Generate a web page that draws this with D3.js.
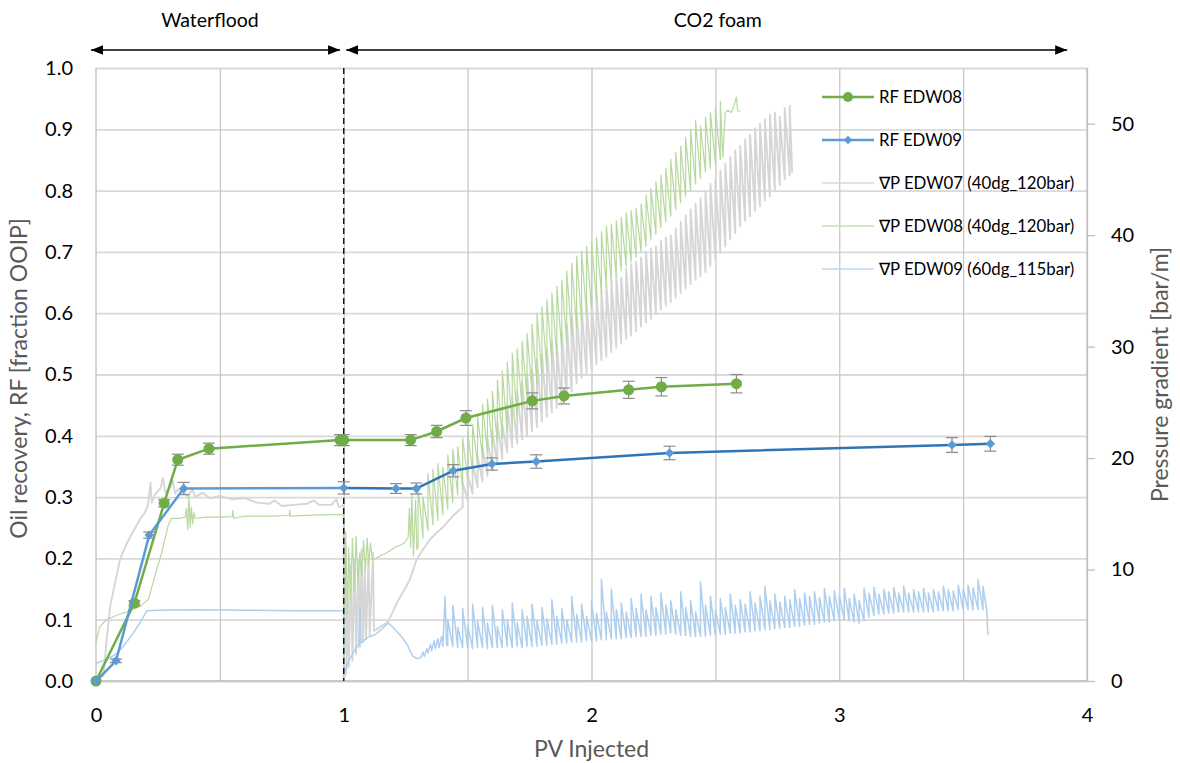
<!DOCTYPE html>
<html>
<head>
<meta charset="utf-8">
<script src="https://cdn.jsdelivr.net/npm/d3@7"></script>
<style>
  body { margin: 0; background: #fff; }
  svg { font-family: Lato, 'Liberation Sans', sans-serif; }
</style>
</head>
<body>
<svg id="chart" width="1180" height="763"></svg>
<script>
// Recovery factor, EDW08 (green circles)
const rf08PV = [0, 0.155, 0.275, 0.33, 0.456, 0.985, 1.0, 1.27, 1.375, 1.493, 1.761, 1.889, 2.15, 2.282, 2.585];
const rf08 = [0.0, 0.127, 0.29, 0.361, 0.379, 0.393, 0.393, 0.393, 0.407, 0.429, 0.457, 0.465, 0.475, 0.48, 0.485];
const rf08Err = [0, 0.004, 0.006, 0.009, 0.009, 0.009, 0.009, 0.009, 0.01, 0.012, 0.013, 0.013, 0.014, 0.015, 0.015];

// Recovery factor, EDW09 (blue diamonds)
const rf09PV = [0, 0.081, 0.215, 0.354, 1.0, 1.211, 1.293, 1.442, 1.598, 1.777, 2.315, 3.455, 3.61];
const rf09 = [0.0, 0.033, 0.238, 0.314, 0.315, 0.314, 0.314, 0.343, 0.354, 0.358, 0.372, 0.385, 0.387];
const rf09Err = [0, 0.003, 0.005, 0.01, 0.01, 0.008, 0.009, 0.01, 0.01, 0.011, 0.011, 0.012, 0.012];

// Pressure gradient traces [PV, bar/m]; spikes are [PV, low, high]
const edw07Flood = [[0,0.2],[0.02,0.3],[0.03,0.5],[0.043,3.7],[0.057,6.7],[0.077,8.8],[0.097,10.9],[0.117,12.0],[0.137,12.9],[0.16,13.8],[0.18,14.6],[0.197,15.1],[0.21,15.8],[0.22,17.8],[0.225,16.0],[0.24,16.8],[0.26,17.3],[0.27,18.2],[0.28,16.9],[0.30,17.4],[0.31,18.0],[0.32,16.8],[0.33,17.2],[0.35,17.0],[0.37,16.6],[0.39,17.2],[0.40,16.5],[0.43,16.9],[0.46,16.4],[0.50,16.6],[0.55,16.3],[0.60,16.4],[0.65,16.0],[0.70,15.9],[0.72,16.2],[0.75,15.7],[0.80,15.8],[0.85,15.9],[0.88,16.2],[0.90,15.8],[0.95,15.8],[0.97,16.3],[0.98,15.6],[1.0,15.8]];
const edw07Foam = [[1.0,0.2],[1.01,0.8],[1.015,9.0],[1.02,1.2],[1.03,10.5],[1.035,1.8],[1.045,11.0],[1.05,2.4],[1.06,10.8],[1.065,3.0],[1.072,11.8],[1.078,3.5],[1.085,10.2],[1.09,3.8],[1.10,11.0],[1.105,4.1],[1.118,11.5],[1.122,4.5],[1.15,4.9],[1.179,5.3],[1.214,7.0],[1.24,8.0],[1.267,9.1],[1.294,10.9],[1.32,11.8],[1.348,12.7],[1.375,13.3],[1.40,13.8],[1.44,14.8],[1.46,15.2]];
const edw07Spikes = [
  [1.48,15.6,17.8],[1.50,16.2,18.5],[1.52,16.8,19.6],[1.54,17.4,20.2],[1.56,17.9,21.0],[1.58,18.4,21.8],[1.60,18.9,22.5],[1.62,19.4,23.3],[1.64,19.9,23.0],[1.66,20.5,24.8],
  [1.68,21.0,25.5],[1.70,21.3,26.0],[1.72,21.7,26.8],[1.74,22.0,27.5],[1.76,22.4,28.0],[1.78,22.8,28.9],[1.80,23.3,29.3],[1.82,23.7,29.8],[1.84,24.1,30.5],[1.86,24.5,30.2],
  [1.88,24.8,31.3],[1.90,25.3,32.0],[1.92,26.0,32.8],[1.94,26.7,33.0],[1.96,27.2,33.5],[1.98,27.6,33.8],[2.00,28.0,34.4],[2.02,28.4,34.9],[2.04,28.8,35.0],[2.06,29.1,35.6],
  [2.08,29.5,36.0],[2.10,29.9,36.4],[2.12,30.3,36.2],[2.14,30.7,37.0],[2.16,31.0,37.4],[2.18,31.4,37.6],[2.20,31.8,38.0],[2.22,32.2,38.5],[2.24,32.5,38.8],[2.26,32.9,39.0],
  [2.28,33.3,39.5],[2.30,33.7,39.8],[2.32,34.0,40.0],[2.34,34.4,40.6],[2.36,34.8,41.2],[2.38,35.2,41.8],[2.40,35.6,42.3],[2.42,36.0,42.8],[2.44,36.3,43.3],[2.46,36.7,44.0],
  [2.48,37.2,44.6],[2.50,37.8,45.0],[2.52,38.4,45.8],[2.54,39.0,46.4],[2.56,39.6,47.0],[2.58,40.2,47.6],[2.60,40.8,48.0],[2.62,41.3,48.6],[2.64,41.7,49.0],[2.66,42.2,49.6],
  [2.68,42.6,50.0],[2.70,43.1,50.4],[2.72,43.5,50.8],[2.74,44.0,51.0],[2.76,44.5,50.6],[2.78,45.0,51.4],[2.80,45.4,51.6]
];
const edw07End = [[2.81,45.6]];

const edw08Flood = [[0,3.5],[0.016,4.9],[0.043,5.5],[0.084,5.9],[0.137,6.3],[0.178,6.7],[0.211,7.3],[0.245,10.0],[0.265,11.5],[0.292,14.0],[0.305,14.6],[0.34,14.6],[0.36,14.7],[0.365,15.5],[0.37,13.6],[0.375,16.6],[0.38,13.8],[0.385,15.6],[0.39,14.1],[0.395,15.1],[0.40,14.6],[0.45,14.7],[0.50,14.7],[0.55,14.75],[0.552,15.3],[0.556,14.6],[0.60,14.8],[0.70,14.8],[0.78,14.85],[0.782,15.3],[0.785,14.8],[0.90,14.9],[1.0,14.95]];
const edw08Foam = [[1.0,1.0],[1.005,3.1],[1.008,13.4],[1.015,6.0],[1.02,12.0],[1.027,7.3],[1.035,12.8],[1.042,8.0],[1.05,13.0],[1.057,8.8],[1.065,11.5],[1.072,9.5],[1.08,12.6],[1.087,10.0],[1.095,12.8],[1.10,10.4],[1.108,12.4],[1.115,10.9],[1.13,11.0],[1.155,11.3],[1.18,11.6],[1.21,12.05],[1.23,12.2],[1.246,12.4],[1.26,12.9],[1.265,15.5],[1.27,12.0],[1.275,16.8],[1.281,11.2],[1.29,16.2],[1.295,11.8]];
const edw08Spikes = [
  [1.30,12.0,17.5],[1.32,12.8,16.5],[1.34,13.5,18.6],[1.36,14.0,19.0],[1.38,14.4,19.5],[1.40,14.9,19.2],[1.42,15.4,20.3],[1.44,16.0,20.8],[1.46,16.7,21.0],[1.48,17.4,21.8],
  [1.50,18.1,22.4],[1.52,18.8,23.0],[1.54,19.5,23.8],[1.56,20.1,24.8],[1.58,20.6,25.3],[1.60,21.0,26.0],[1.62,21.4,27.0],[1.64,21.8,27.8],[1.66,22.3,28.6],[1.68,22.9,29.4],
  [1.70,23.6,29.8],[1.72,24.5,30.5],[1.74,25.2,31.2],[1.76,25.9,32.0],[1.78,26.6,33.0],[1.80,27.3,33.6],[1.82,27.9,34.2],[1.84,28.6,34.8],[1.86,29.2,35.4],[1.88,29.8,36.0],
  [1.90,30.4,36.8],[1.92,31.0,37.5],[1.94,31.7,38.1],[1.96,32.3,38.6],[1.98,32.9,39.0],[2.00,33.5,39.4],[2.02,34.1,39.8],[2.04,34.8,40.3],[2.06,35.4,40.8],[2.08,35.9,41.0],
  [2.10,36.3,41.3],[2.12,36.8,41.6],[2.14,37.2,42.0],[2.16,37.6,42.2],[2.18,38.0,42.4],[2.20,38.5,42.8],[2.22,39.0,43.6],[2.24,39.6,44.2],[2.26,40.1,44.8],[2.28,40.7,45.4],
  [2.30,41.2,46.0],[2.32,41.7,46.8],[2.34,42.3,47.4],[2.36,42.9,48.0],[2.38,43.5,48.8],[2.40,44.0,49.5],[2.42,44.6,50.3],[2.44,45.1,49.8],[2.46,45.7,50.6],[2.48,46.0,51.0],
  [2.50,46.4,51.4],[2.52,46.8,52.0]
];
const edw08End = [[2.53,47.0],[2.54,51.0],[2.55,51.2],[2.565,51.0],[2.575,51.6],[2.585,52.4],[2.59,51.2],[2.60,51.1]];

const edw09Flood = [[0,1.6],[0.04,1.9],[0.08,2.4],[0.11,3.1],[0.15,4.3],[0.18,5.3],[0.205,6.3],[0.25,6.35],[0.4,6.4],[0.6,6.35],[0.8,6.3],[1.0,6.3]];
const edw09Foam = [[1.0,0.5],[1.005,1.0],[1.02,1.8],[1.035,2.4],[1.05,3.0],[1.06,3.2],[1.066,6.6],[1.07,3.4],[1.08,3.6],[1.09,3.8],[1.105,4.0],[1.12,4.1],[1.135,4.3],[1.15,4.6],[1.165,4.9],[1.18,5.2],[1.20,4.8],[1.22,4.3],[1.24,3.8],[1.26,3.1],[1.27,2.6],[1.28,2.2],[1.295,2.0],[1.31,2.1],[1.32,2.6],[1.325,2.2],[1.335,2.9],[1.34,2.5],[1.35,3.3],[1.355,2.7],[1.365,3.6],[1.37,2.9],[1.38,3.8],[1.385,3.0],[1.395,4.0],[1.40,3.1],[1.409,7.6],[1.415,3.2]];
const edw09Spikes = [
  [1.42,3.2,5.5],[1.44,3.1,6.8],[1.46,3.0,4.8],[1.48,3.0,6.5],[1.50,3.0,5.0],[1.52,2.9,6.9],[1.54,3.0,5.4],[1.56,3.0,6.6],[1.58,2.9,5.2],[1.60,3.0,6.8],
  [1.62,3.0,4.9],[1.64,3.0,6.4],[1.66,3.1,5.5],[1.68,3.0,7.0],[1.70,3.1,5.2],[1.72,3.0,6.4],[1.74,3.1,5.8],[1.76,3.1,6.9],[1.78,3.1,5.4],[1.80,3.2,6.6],
  [1.82,3.2,5.6],[1.84,3.3,7.3],[1.86,3.3,5.8],[1.88,3.4,6.5],[1.90,3.4,5.5],[1.92,3.5,7.6],[1.94,3.5,6.0],[1.96,3.5,6.9],[1.98,3.6,5.8],[2.00,3.6,7.2],
  [2.02,3.6,6.1],[2.04,3.7,9.1],[2.06,3.7,6.2],[2.08,3.8,8.2],[2.10,3.8,6.4],[2.12,3.8,7.0],[2.14,3.9,6.2],[2.16,3.9,7.4],[2.18,4.0,6.5],[2.20,4.0,7.8],
  [2.22,4.0,6.4],[2.24,4.1,7.6],[2.26,4.1,6.6],[2.28,4.2,7.9],[2.30,4.2,6.8],[2.32,4.3,7.2],[2.34,4.2,6.4],[2.36,4.1,8.0],[2.38,4.1,6.6],[2.40,4.0,7.2],
  [2.42,4.0,6.2],[2.44,4.0,8.9],[2.46,4.0,6.8],[2.48,4.1,7.6],[2.50,4.1,6.4],[2.52,4.2,7.4],[2.54,4.2,6.6],[2.56,4.3,7.8],[2.58,4.3,6.8],[2.60,4.3,7.3],
  [2.62,4.4,6.9],[2.64,4.4,8.0],[2.66,4.5,7.0],[2.68,4.5,7.6],[2.70,4.6,8.5],[2.72,4.6,7.2],[2.74,4.7,7.8],[2.76,4.7,7.1],[2.78,4.8,7.6],[2.80,4.8,7.3],
  [2.82,4.9,8.2],[2.84,4.9,7.4],[2.86,5.0,7.9],[2.88,5.1,7.6],[2.90,5.1,8.0],[2.92,5.2,7.5],[2.94,5.3,8.3],[2.96,5.3,7.6],[2.98,5.4,8.1],[3.00,5.5,7.7],
  [3.02,5.5,8.3],[3.04,5.4,7.4],[3.06,5.3,7.8],[3.08,5.2,7.2],[3.10,5.4,8.3],[3.12,5.7,7.9],[3.14,5.9,8.4],[3.16,6.0,7.8],[3.18,6.0,8.2],[3.20,6.1,8.0],
  [3.22,6.1,8.4],[3.24,6.2,7.9],[3.26,6.2,8.5],[3.28,6.2,7.9],[3.30,6.2,8.2],[3.32,6.2,8.0],[3.34,6.2,8.3],[3.36,6.2,7.9],[3.38,6.2,8.2],[3.40,6.3,8.0],
  [3.42,6.3,8.5],[3.44,6.3,8.2],[3.46,6.3,8.1],[3.48,6.4,8.6],[3.50,6.4,8.3],[3.52,6.4,8.6],[3.54,6.4,8.4],[3.56,6.4,9.1],[3.58,6.4,8.5]
];
const edw09End = [[3.595,6.4],[3.60,4.1]];

// Axis ticks and annotations
const xTicks = [0, 1, 2, 3, 4];
const xGrid = [0.5, 1, 1.5, 2, 2.5, 3, 3.5, 4];
const rfTicks = [0, 0.1, 0.2, 0.3, 0.4, 0.5, 0.6, 0.7, 0.8, 0.9, 1.0];
const dpTicks = [0, 10, 20, 30, 40, 50];
const phases = [
  { label: 'Waterflood', from: -0.02, to: 0.985, mid: 0.46 },
  { label: 'CO2 foam', from: 1.01, to: 3.92, mid: 2.51 }
];
const legendItems = [
  { label: 'RF EDW08', color: '#70AD47', width: 2.5, marker: 'circle' },
  { label: 'RF EDW09', color: '#5B9BD5', width: 2.5, marker: 'diamond' },
  { label: '\u2207P EDW07 (40dg_120bar)', color: '#D9D9D9', width: 1.5 },
  { label: '\u2207P EDW08 (40dg_120bar)', color: '#C5E0B4', width: 1.5 },
  { label: '\u2207P EDW09 (60dg_115bar)', color: '#BDD7EE', width: 1.5 }
];

const svg = d3.select('#chart');
const plotLeft = 96, plotRight = 1087, plotTop = 68, plotBottom = 681;

const x = d3.scaleLinear().domain([0, 4]).range([plotLeft, plotRight]);
const yL = d3.scaleLinear().domain([0, 1]).range([plotBottom, plotTop]);
const yR = d3.scaleLinear().domain([0, 55]).range([plotBottom, plotTop]);

// Gridlines
svg.append('g')
  .attr('transform', `translate(${plotLeft},0)`)
  .call(d3.axisLeft(yL).tickValues(rfTicks).tickSize(-(plotRight - plotLeft)).tickFormat(''))
  .call((g) => g.select('.domain').remove())
  .selectAll('line').attr('stroke', '#D9D9D9').attr('stroke-width', 1.8);

svg.append('g')
  .attr('transform', `translate(0,${plotBottom})`)
  .call(d3.axisBottom(x).tickValues(xGrid).tickSize(-(plotBottom - plotTop)).tickFormat(''))
  .call((g) => g.select('.domain').remove())
  .selectAll('line').attr('stroke', '#C8C8C8').attr('stroke-width', 1.3);

// Pressure traces
const spikePts = (s) => s.flatMap((d) => [[d[0], d[1]], [d[0], d[2]]]);
const pLine = d3.line().x((d) => x(d[0])).y((d) => yR(d[1]));

const traces = [
  { pts: edw07Flood.concat(edw07Foam, spikePts(edw07Spikes), edw07End), color: '#D6D6D6', width: 1.9 },
  { pts: edw08Flood.concat(edw08Foam, spikePts(edw08Spikes), edw08End), color: '#B7D99F', width: 1.2 },
  { pts: edw09Flood.concat(edw09Foam, spikePts(edw09Spikes), edw09End), color: '#AFCFEE', width: 1.5 }
];
traces.forEach((t) => {
  svg.append('path')
    .datum(t.pts)
    .attr('fill', 'none')
    .attr('stroke', t.color)
    .attr('stroke-width', t.width)
    .attr('stroke-linejoin', 'round')
    .attr('d', pLine);
});

// Axis lines
svg.append('line').attr('x1', plotLeft).attr('x2', plotLeft).attr('y1', plotTop).attr('y2', plotBottom)
  .attr('stroke', '#BFBFBF').attr('stroke-width', 1.3);
svg.append('line').attr('x1', plotLeft).attr('x2', plotRight).attr('y1', plotBottom).attr('y2', plotBottom)
  .attr('stroke', '#BFBFBF').attr('stroke-width', 1.5);

// Phase boundary
svg.append('line')
  .attr('x1', x(1)).attr('x2', x(1)).attr('y1', plotTop).attr('y2', plotBottom)
  .attr('stroke', '#000').attr('stroke-width', 1.3).attr('stroke-dasharray', '6,4');

// Left axis
const gl = svg.append('g')
  .attr('transform', `translate(${plotLeft},0)`)
  .call(d3.axisLeft(yL).tickValues(rfTicks).tickSize(0).tickPadding(23).tickFormat(d3.format('.1f')));
gl.select('.domain').remove();
gl.selectAll('text').attr('font-size', 20).attr('fill', '#000').attr('font-family', 'Lato, sans-serif');

// Bottom axis
const gb = svg.append('g')
  .attr('transform', `translate(0,${plotBottom})`)
  .call(d3.axisBottom(x).tickValues(xTicks).tickSize(0).tickPadding(27).tickFormat(d3.format('d')));
gb.select('.domain').remove();
gb.selectAll('text').attr('font-size', 20).attr('fill', '#000').attr('font-family', 'Lato, sans-serif');

// Right axis
const gr = svg.append('g')
  .attr('transform', `translate(${plotRight},0)`)
  .call(d3.axisRight(yR).tickValues(dpTicks).tickSize(8).tickPadding(16));
gr.select('.domain').attr('stroke', '#BFBFBF').attr('stroke-width', 1.3).attr('d', `M0,${plotTop}V${plotBottom}`);
gr.selectAll('line').attr('stroke', '#BFBFBF').attr('stroke-width', 1.3);
gr.selectAll('text').attr('font-size', 20).attr('fill', '#000').attr('font-family', 'Lato, sans-serif');

// Axis titles
svg.append('text')
  .attr('transform', `translate(27,${(plotTop + plotBottom) / 2 + 4}) rotate(-90)`)
  .attr('text-anchor', 'middle')
  .attr('font-size', 23).attr('fill', '#595959')
  .text('Oil recovery, RF [fraction OOIP]');
svg.append('text')
  .attr('transform', `translate(1168,${(plotTop + plotBottom) / 2}) rotate(-90)`)
  .attr('text-anchor', 'middle')
  .attr('font-size', 23).attr('fill', '#595959')
  .text('Pressure gradient [bar/m]');
svg.append('text')
  .attr('x', (plotLeft + plotRight) / 2).attr('y', 757)
  .attr('text-anchor', 'middle')
  .attr('font-size', 23).attr('fill', '#595959')
  .text('PV Injected');

// Phase arrows
const defs = svg.append('defs');
defs.append('marker')
  .attr('id', 'arrow')
  .attr('viewBox', '0 0 10 8')
  .attr('refX', 10).attr('refY', 4)
  .attr('markerWidth', 12).attr('markerHeight', 10)
  .attr('markerUnits', 'userSpaceOnUse')
  .attr('orient', 'auto-start-reverse')
  .append('path').attr('d', 'M0,0L10,4L0,8Z').attr('fill', '#000');

phases.forEach((p) => {
  svg.append('line')
    .attr('x1', x(p.from)).attr('x2', x(p.to)).attr('y1', 50).attr('y2', 50)
    .attr('stroke', '#000').attr('stroke-width', 1.5)
    .attr('marker-start', 'url(#arrow)').attr('marker-end', 'url(#arrow)');
  svg.append('text')
    .attr('x', x(p.mid)).attr('y', 27)
    .attr('text-anchor', 'middle')
    .attr('font-size', 19.5).attr('fill', '#000')
    .text(p.label);
});

// Recovery factor series
function drawRF(pv, vals, errs, color, lineSegments, marker) {
  const pts = pv.map((d, i) => ({ pv: d, v: vals[i], e: errs[i] }));
  const line = d3.line().x((d) => x(d.pv)).y((d) => yL(d.v));

  // error bars
  const eb = svg.append('g').attr('stroke', '#8C8C8C').attr('stroke-width', 1.2);
  pts.filter((d) => d.e > 0).forEach((d) => {
    const cx = x(d.pv);
    eb.append('line').attr('x1', cx).attr('x2', cx).attr('y1', yL(d.v - d.e)).attr('y2', yL(d.v + d.e));
    eb.append('line').attr('x1', cx - 6).attr('x2', cx + 6).attr('y1', yL(d.v - d.e)).attr('y2', yL(d.v - d.e));
    eb.append('line').attr('x1', cx - 6).attr('x2', cx + 6).attr('y1', yL(d.v + d.e)).attr('y2', yL(d.v + d.e));
  });

  lineSegments.forEach((seg) => {
    svg.append('path')
      .datum(pts.slice(seg.from, seg.to))
      .attr('fill', 'none')
      .attr('stroke', seg.color)
      .attr('stroke-width', 2.5)
      .attr('d', line);
  });

  const sym = marker === 'circle'
    ? d3.symbol().type(d3.symbolCircle).size(95)
    : d3.symbol().type(d3.symbolSquare).size(44);
  svg.append('g')
    .selectAll('path')
    .data(pts)
    .join('path')
    .attr('d', sym)
    .attr('transform', (d) => `translate(${x(d.pv)},${yL(d.v)})` + (marker === 'diamond' ? ' rotate(45)' : ''))
    .attr('fill', color);
}

drawRF(rf08PV, rf08, rf08Err, '#70AD47', [{ from: 0, to: rf08PV.length, color: '#70AD47' }], 'circle');
drawRF(rf09PV, rf09, rf09Err, '#5B9BD5', [
  { from: 0, to: 5, color: '#5B9BD5' },
  { from: 4, to: rf09PV.length, color: '#2E75B6' }
], 'diamond');

// Legend
const lg = svg.append('g');
legendItems.forEach((item, i) => {
  const ly = 97 + i * 43;
  lg.append('line')
    .attr('x1', 822).attr('x2', 874).attr('y1', ly).attr('y2', ly)
    .attr('stroke', item.color).attr('stroke-width', item.width);
  if (item.marker === 'circle') {
    lg.append('path').attr('d', d3.symbol().type(d3.symbolCircle).size(80)())
      .attr('transform', `translate(848,${ly})`).attr('fill', item.color);
  } else if (item.marker === 'diamond') {
    lg.append('path').attr('d', d3.symbol().type(d3.symbolSquare).size(36)())
      .attr('transform', `translate(848,${ly}) rotate(45)`).attr('fill', item.color);
  }
  lg.append('text')
    .attr('x', 879).attr('y', ly).attr('dy', '0.35em')
    .attr('font-size', 16.8).attr('fill', '#000')
    .text(item.label);
});
</script>
</body>
</html>
